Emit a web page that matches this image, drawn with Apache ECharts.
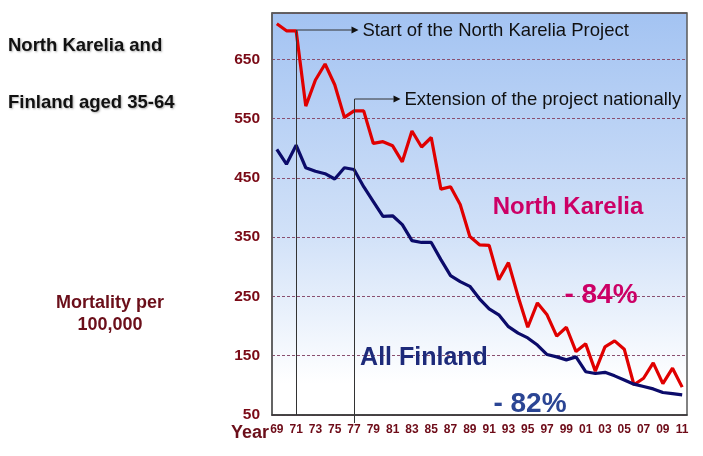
<!DOCTYPE html>
<html><head><meta charset="utf-8">
<script src="https://cdn.jsdelivr.net/npm/echarts@6/dist/echarts.min.js"></script>
<style>html,body{margin:0;padding:0;background:#fff}#c{width:703px;height:456px}</style>
</head><body><div id="c"></div>
<script>
const years = [1969,1970,1971,1972,1973,1974,1975,1976,1977,1978,1979,1980,1981,1982,1983,1984,1985,1986,1987,1988,1989,1990,1991,1992,1993,1994,1995,1996,1997,1998,1999,2000,2001,2002,2003,2004,2005,2006,2007,2008,2009,2010,2011];
const northKarelia = [710,698,698,571,615,642,607,552,563,563,508,511,504,477,529,502,518,431,435,405,351,337,336,278,307,250,198,239,219,183,198,157,170,124,165,175,161,101,112,138,103,129,97];
const allFinland = [498,473,505,467,461,457,448,467,464,435,410,385,386,371,344,341,341,312,285,275,267,246,229,219,199,188,180,168,152,148,143,148,123,120,122,116,109,102,98,94,88,86,84];
const yTicks = {min:50, max:728, interval:100};
const events = [{year:1971, text:'Start of the North Karelia Project', y:30},{year:1977, text:'Extension of the project nationally', y:99}];

(function(){
const FONT = '"Liberation Sans", Arial, sans-serif';
const chart = echarts.init(document.getElementById('c'));
chart.setOption({
  animation:false,
  grid:{left:272, right:16, top:13, bottom:41, show:true, borderColor:'#5a5a5a', borderWidth:1.5,
    backgroundColor:{type:'linear',x:0,y:0,x2:0,y2:1,colorStops:[{offset:0,color:'#a3c3f2'},{offset:0.55,color:'#d1e1f8'},{offset:0.92,color:'#ffffff'},{offset:1,color:'#ffffff'}]}},
  xAxis:{type:'category', data:years, boundaryGap:true,
    axisLine:{lineStyle:{color:'#333',width:1.5}},
    axisTick:{inside:true, length:4, interval:0, lineStyle:{color:'#444'}},
    axisLabel:{interval:1, margin:9, color:'#6e0b18', fontWeight:'bold', fontSize:12, fontFamily:FONT,
      formatter:v=>String(v).slice(2)},
    splitLine:{show:false}},
  yAxis:{type:'value', min:yTicks.min, max:yTicks.max, interval:yTicks.interval,
    axisLine:{show:true, lineStyle:{color:'#5a5a5a',width:1.5}}, axisTick:{show:false},
    axisLabel:{showMaxLabel:false, margin:12, color:'#7a0a16', fontWeight:'bold', fontSize:15.5, fontFamily:FONT},
    splitLine:{show:true, lineStyle:{color:'#8a5070', type:[3,2], width:1.2}}},
  series:[
    {type:'line', data:northKarelia, symbol:'none', lineStyle:{color:'#e00000', width:3.2}, z:3},
    {type:'line', data:allFinland, symbol:'none', lineStyle:{color:'#0b0b6a', width:3.2}, z:3}
  ]
});

const g = [];
const base = chart.convertToPixel({xAxisIndex:0,yAxisIndex:0},[0,yTicks.min]);
const topP = chart.convertToPixel({xAxisIndex:0,yAxisIndex:0},[0,yTicks.max]);
const rightP = chart.convertToPixel({xAxisIndex:0,yAxisIndex:0},[years.length-1,yTicks.min]);
g.push({type:'line', shape:{x1:base[0]-4.8, y1:topP[1], x2:rightP[0]+4.8, y2:topP[1]}, style:{stroke:'#5a5a5a', lineWidth:1.5}, z:10});
events.forEach((e,i)=>{
  const p = chart.convertToPixel({xAxisIndex:0,yAxisIndex:0},[years.indexOf(e.year), yTicks.min]);
  const x = Math.round(p[0])+0.5;
  const len = i===0 ? 55 : 39;
  g.push({type:'line', shape:{x1:x, y1:p[1]+(i===0?0:8), x2:x, y2:e.y}, style:{stroke:'#333', lineWidth:1}, z:10});
  g.push({type:'line', shape:{x1:x, y1:e.y, x2:x+len, y2:e.y}, style:{stroke:'#333', lineWidth:1}, z:10});
  g.push({type:'polygon', shape:{points:[[x+len,e.y-3.5],[x+len+7,e.y],[x+len,e.y+3.5]]}, style:{fill:'#111'}, z:10});
  g.push({type:'text', x:x+len+11, y:e.y+1, style:{text:e.text, fill:'#111', font:'18.5px '+FONT, textVerticalAlign:'middle'}, z:10});
});
const txt = (t,x,y,font,fill,align,extra)=>g.push({type:'text', x, y, z:11, style:Object.assign({text:t, fill, font, textAlign:align||'left', textVerticalAlign:'middle'}, extra||{})});
const shadow = {textShadowColor:'rgba(0,0,0,0.3)', textShadowBlur:2, textShadowOffsetX:1, textShadowOffsetY:1};
txt('North Karelia and', 8, 46, 'bold 18.5px '+FONT, '#111', 'left', shadow);
txt('Finland aged 35-64', 8, 103, 'bold 18.5px '+FONT, '#111', 'left', shadow);
txt('Mortality per', 110, 303, 'bold 18px '+FONT, '#6b0f1a', 'center');
txt('100,000', 110, 325, 'bold 18px '+FONT, '#6b0f1a', 'center');
txt('Year', 250, 433, 'bold 18px '+FONT, '#6b0f1a', 'center');
txt('North Karelia', 568, 207, 'bold 24px '+FONT, '#cc0066', 'center');
txt('- 84%', 601, 295, 'bold 28px '+FONT, '#cc0066', 'center');
txt('All Finland', 424, 358, 'bold 25px '+FONT, '#1d2a7a', 'center');
txt('- 82%', 530, 404, 'bold 28px '+FONT, '#2b4594', 'center');
chart.setOption({graphic:{elements:g}});
})();
</script></body></html>
